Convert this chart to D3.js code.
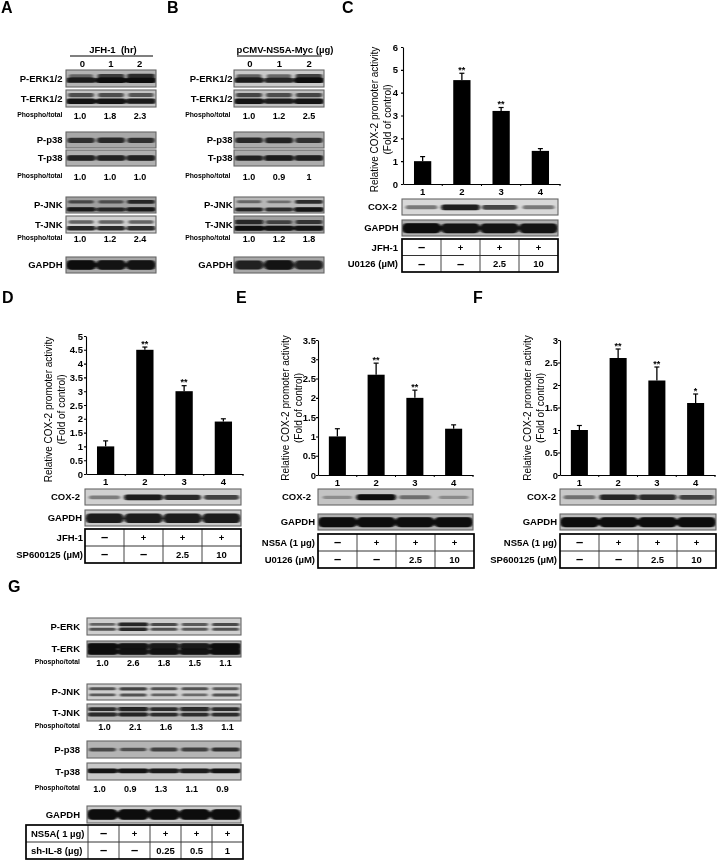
<!DOCTYPE html>
<html>
<head>
<meta charset="utf-8">
<script src="https://cdn.jsdelivr.net/npm/d3@7"></script>
<style>
  html, body { margin: 0; padding: 0; background: #fff; }
  svg { filter: blur(0.3px); }
  text { font-family: "Liberation Sans", Arial, sans-serif; fill: #000; }
  .bold { font-weight: bold; }
</style>
</head>
<body>
<div id="svg"></div>
<script>
// bar values
const lanes4 = ['1', '2', '3', '4']
const valuesC = [1.0, 4.55, 3.2, 1.45]
const errTopC = [1.2, 4.85, 3.35, 1.55]
const starsC = ['', '**', '**', '']
const ticksC = [0, 1, 2, 3, 4, 5, 6]

const valuesD = [1.0, 4.5, 3.0, 1.9]
const errTopD = [1.2, 4.6, 3.2, 2.0]
const starsD = ['', '**', '**', '']
const ticksD = [0, 0.5, 1, 1.5, 2, 2.5, 3, 3.5, 4, 4.5, 5]

const valuesE = [1.0, 2.6, 2.0, 1.2]
const errTopE = [1.2, 2.9, 2.2, 1.3]
const starsE = ['', '**', '**', '']
const ticksE = [0, 0.5, 1, 1.5, 2, 2.5, 3, 3.5]

const valuesF = [1.0, 2.6, 2.1, 1.6]
const errTopF = [1.1, 2.8, 2.4, 1.8]
const starsF = ['', '**', '**', '*']
const ticksF = [0, 0.5, 1, 1.5, 2, 2.5, 3]

// table rows under the bars
const rowsC = [['JFH-1', '–', '+', '+', '+'], ['U0126 (µM)', '–', '–', '2.5', '10']]
const rowsD = [['JFH-1', '–', '+', '+', '+'], ['SP600125 (µM)', '–', '–', '2.5', '10']]
const rowsE = [['NS5A (1 µg)', '–', '+', '+', '+'], ['U0126 (µM)', '–', '–', '2.5', '10']]
const rowsF = [['NS5A (1 µg)', '–', '+', '+', '+'], ['SP600125 (µM)', '–', '–', '2.5', '10']]
const rowsG = [['NS5A( 1 µg)', '–', '+', '+', '+', '+'], ['sh-IL-8 (µg)', '–', '–', '0.25', '0.5', '1']]

// blot names and phospho/total ratios
const namesAB1 = ['P-ERK1/2', 'T-ERK1/2', 'P-p38', 'T-p38', 'P-JNK', 'T-JNK', 'GAPDH']
const namesG = ['P-ERK', 'T-ERK', 'P-JNK', 'T-JNK', 'P-p38', 'T-p38', 'GAPDH']
const namesCox = ['COX-2', 'GAPDH']
const ratiosA = [['1.0', '1.8', '2.3'], ['1.0', '1.0', '1.0'], ['1.0', '1.2', '2.4']]
const ratiosB = [['1.0', '1.2', '2.5'], ['1.0', '0.9', '1'], ['1.0', '1.2', '1.8']]
const ratiosG = [['1.0', '2.6', '1.8', '1.5', '1.1'], ['1.0', '2.1', '1.6', '1.3', '1.1'], ['1.0', '0.9', '1.3', '1.1', '0.9']]
const lanesA = ['0', '1', '2']
const lanesG = ['a', 'b', 'c', 'd', 'e']

// band darkness per blot, band and lane (0-1)
const bandsA = [
  [[.3, .6, .7], [.9, 1, 1]],
  [[.5, .5, .45], [.95, .95, .9]],
  [[.65, .7, .65]],
  [[.85, .85, .85]],
  [[.45, .4, .7], [.9, .8, .9]],
  [[.4, .4, .4], [.85, .75, .8]],
  [[1, .95, .95]]
]
const bandsB = [
  [[.4, .35, .6], [.9, .85, 1]],
  [[.55, .5, .55], [.95, .9, .95]],
  [[.7, .75, .65]],
  [[.75, .9, .85]],
  [[.3, .25, .7], [.75, .7, .95]],
  [[.8, .5, .6], [1, .95, .95]],
  [[.85, .95, .85]]
]
const bandsG = [
  [[.4, .85, .55, .45, .55], [.5, .75, .5, .45, .5]],
  [[1, .95, .9, .9, 1], [1, .95, .95, .95, 1]],
  [[.5, .6, .5, .5, .45], [.45, .5, .4, .35, .5]],
  [[.7, .85, .7, .8, .7], [.8, .85, .7, .7, .7]],
  [[.5, .45, .55, .55, .65]],
  [[.95, .95, .9, .9, .95]],
  [[1, 1, 1, 1, 1]]
]
const coxC = [[[.3, .9, .6, .3]], [[1, .95, .95, .95]]]
const coxD = [[[.25, .9, .75, .6]], [[.9, .9, .9, .9]]]
const coxE = [[[.1, 1, .3, .12]], [[1, 1, 1, 1]]]
const coxF = [[[.3, .85, .8, .6]], [[1, 1, 1, 1]]]

// layout of the figure
const svg = d3.select('#svg').append('svg').attr('width', 717).attr('height', 860)
const defs = svg.append('defs')
defs.append('filter').attr('id', 'smear')
  .attr('x', '-20%').attr('y', '-60%').attr('width', '140%').attr('height', '220%')
  .append('feGaussianBlur').attr('stdDeviation', '1.7 0.7')

let clipId = 0

function label(x, y, str, size, anchor, bold) {
  return svg.append('text')
    .attr('x', x).attr('y', y)
    .attr('text-anchor', anchor || 'start')
    .attr('class', bold === false ? '' : 'bold')
    .style('font-size', size + 'px')
    .text(str)
}

function drawBlot(laneNames, x0, x1, y0, y1, name, nameX, bg, bands, bandPos, thick) {
  let laneScale = d3.scaleBand().domain(laneNames).range([x0, x1])
  let id = 'clip' + (clipId++)
  defs.append('clipPath').attr('id', id).append('rect')
    .attr('x', x0).attr('y', y0).attr('width', x1 - x0).attr('height', y1 - y0)

  svg.append('rect')
    .attr('x', x0).attr('y', y0).attr('width', x1 - x0).attr('height', y1 - y0)
    .attr('fill', bg)

  let inner = svg.append('g').attr('clip-path', `url(#${id})`).append('g').attr('filter', 'url(#smear)')
  bands.forEach((row, b) => {
    let cy = y0 + (y1 - y0) * bandPos[b]
    let bw = laneScale.bandwidth()
    let bandH = d => thick * (0.5 + 0.5 * d)
    let bandW = d => bw * (0.72 + 0.3 * d)
    inner.selectAll(null)
      .data(row)
      .join('rect')
      .attr('x', (d, i) => laneScale(laneNames[i]) + (bw - bandW(d)) / 2)
      .attr('width', d => bandW(d))
      .attr('y', d => cy - bandH(d) / 2)
      .attr('height', d => bandH(d))
      .attr('rx', d => bandH(d) / 2)
      .attr('fill', '#080808')
      .attr('opacity', d => 0.2 + 0.8 * d)
  })

  svg.append('rect')
    .attr('x', x0).attr('y', y0).attr('width', x1 - x0).attr('height', y1 - y0)
    .attr('fill', 'none').attr('stroke', '#666').attr('stroke-width', 1.1)

  label(nameX, (y0 + y1) / 2 + 3.4, name, 9.5, 'end')
}

function drawRatios(laneNames, x0, x1, baseline, values, labelX, shift) {
  let laneScale = d3.scaleBand().domain(laneNames).range([x0, x1])
  label(labelX, baseline - 2, 'Phospho/total', 6.8, 'end')
  svg.selectAll(null)
    .data(values)
    .enter().append('text')
    .attr('class', 'bold')
    .attr('x', (d, i) => laneScale(laneNames[i]) + laneScale.bandwidth() / 2 + shift)
    .attr('y', baseline)
    .attr('text-anchor', 'middle')
    .style('font-size', '9px')
    .text(d => d)
}

function drawTable(columns, x0, x1, y0, y1, rows, labelX, labelAnchor, firstCol) {
  let colStart = firstCol === undefined ? x0 : firstCol
  let colScale = d3.scaleBand().domain(columns).range([colStart, x1])
  let mid = (y0 + y1) / 2

  let lines = columns.map(c => colScale(c)).filter(x => x > x0 + 1)
  svg.selectAll(null)
    .data(lines)
    .enter().append('line')
    .attr('x1', d => d).attr('x2', d => d)
    .attr('y1', y0).attr('y2', y1)
    .attr('stroke', '#444').attr('stroke-width', 1)
  svg.append('line')
    .attr('x1', x0).attr('x2', x1).attr('y1', mid).attr('y2', mid)
    .attr('stroke', '#333').attr('stroke-width', 1)
  svg.append('rect')
    .attr('x', x0).attr('y', y0).attr('width', x1 - x0).attr('height', y1 - y0)
    .attr('fill', 'none').attr('stroke', '#000').attr('stroke-width', 1.7)

  rows.forEach((row, r) => {
    let cy = y0 + (y1 - y0) * (r + 0.5) / 2 + 3.4
    label(labelX, cy, row[0], 9.5, labelAnchor)
    row.slice(1).forEach((cell, i) => {
      let isDash = cell === '–'
      label(colScale(columns[i]) + colScale.bandwidth() / 2, cy + (isDash ? 0.5 : 0), cell, isDash ? 13 : 9.5, 'middle')
    })
  })
}

function drawBars(p) {
  let xScale = d3.scaleBand().domain(lanes4).range([p.x0, p.x1]).paddingInner(0.56).paddingOuter(0.28)
  let yScale = d3.scaleLinear().domain([0, d3.max(p.ticks)]).range([p.y0, p.yTop])

  svg.selectAll(null)
    .data(p.values)
    .enter().append('rect')
    .attr('x', (d, i) => xScale(lanes4[i]))
    .attr('width', xScale.bandwidth())
    .attr('y', d => yScale(d))
    .attr('height', d => p.y0 - yScale(d))
    .attr('fill', '#000')

  // upper error bars with cap
  let cx = i => xScale(lanes4[i]) + xScale.bandwidth() / 2
  svg.selectAll(null)
    .data(p.errTop)
    .enter().append('line')
    .attr('x1', (d, i) => cx(i)).attr('x2', (d, i) => cx(i))
    .attr('y1', (d, i) => yScale(p.values[i])).attr('y2', d => yScale(d))
    .attr('stroke', '#000').attr('stroke-width', 1.3)
  svg.selectAll(null)
    .data(p.errTop)
    .enter().append('line')
    .attr('x1', (d, i) => cx(i) - 2.5).attr('x2', (d, i) => cx(i) + 2.5)
    .attr('y1', d => yScale(d)).attr('y2', d => yScale(d))
    .attr('stroke', '#000').attr('stroke-width', 1.2)

  svg.selectAll(null)
    .data(p.stars)
    .enter().append('text')
    .attr('class', 'bold')
    .attr('x', (d, i) => cx(i))
    .attr('y', (d, i) => yScale(p.errTop[i]) - 0.5)
    .attr('text-anchor', 'middle')
    .style('font-size', '9px')
    .text(d => d)

  let yAxis = svg.append('g')
    .attr('transform', `translate(${p.x0}, 0)`)
    .call(d3.axisLeft(yScale).tickValues(p.ticks).tickFormat(d => d).tickSize(2).tickSizeOuter(0).tickPadding(p.tickPad))
  let xAxis = svg.append('g')
    .attr('transform', `translate(0, ${p.y0})`)
    .call(d3.axisBottom(xScale).tickSize(0).tickSizeOuter(0).tickPadding(4))
  for (let ax of [yAxis, xAxis]) {
    ax.selectAll('text').attr('class', 'bold').style('font-size', '9.5px').style('font-family', '"Liberation Sans", Arial, sans-serif')
    ax.selectAll('line,path').attr('stroke', '#000').attr('stroke-width', 1.1)
  }
  svg.selectAll(null)
    .data(lanes4)
    .enter().append('line')
    .attr('x1', d => xScale(d) + xScale.bandwidth() + xScale.step() * 0.28)
    .attr('x2', d => xScale(d) + xScale.bandwidth() + xScale.step() * 0.28)
    .attr('y1', p.y0).attr('y2', p.y0 + 2)
    .attr('stroke', '#000').attr('stroke-width', 1)

  // y title, two rotated lines
  let ty = (p.titleTop + p.titleBottom) / 2
  svg.append('text')
    .attr('transform', `translate(${p.titleX}, ${ty}) rotate(-90)`)
    .attr('text-anchor', 'middle').style('font-size', '10px')
    .text('Relative COX-2 promoter activity')
  svg.append('text')
    .attr('transform', `translate(${p.titleX + 13}, ${ty}) rotate(-90)`)
    .attr('text-anchor', 'middle').style('font-size', '10px')
    .text('(Fold of control)')
}

// panel letters
label(1, 13, 'A', 16, 'start')
label(167, 13, 'B', 16, 'start')
label(342, 13, 'C', 16, 'start')
label(2, 303, 'D', 16, 'start')
label(236, 303, 'E', 16, 'start')
label(473, 303, 'F', 16, 'start')
label(8, 592, 'G', 16, 'start')

// panels A and B
const boxesAB = [[70, 87], [90, 107], [132, 148], [150, 166], [197, 213], [216, 233], [257, 273]]
const posAB = [[.36, .6], [.3, .66], [.52], [.5], [.3, .78], [.36, .72], [.5]]
const thickAB = [5.5, 5.5, 6.5, 6, 4.5, 5, 9.5]
const bgA = ['#b4b4b4', '#c4c4c4', '#a8a8a8', '#b0b0b0', '#a0a0a0', '#d0d0d0', '#a8a8a8']
const bgB = ['#cacaca', '#c0c0c0', '#acacac', '#acacac', '#b8b8b8', '#a0a0a0', '#a8a8a8']

boxesAB.forEach((b, i) => {
  drawBlot(lanesA, 66, 156, b[0], b[1], namesAB1[i], 62.5, bgA[i], bandsA[i], posAB[i], thickAB[i])
  drawBlot(lanesA, 234, 324, b[0], b[1], namesAB1[i], 232.5, bgB[i], bandsB[i], posAB[i], thickAB[i])
})
const ratioBaselineAB = [119, 180, 242]
ratioBaselineAB.forEach((y, i) => {
  drawRatios(lanesA, 66, 156, y, ratiosA[i], 62.5, -1)
  drawRatios(lanesA, 234, 324, y, ratiosB[i], 230.5, 0)
})
label(113, 53, 'JFH-1  (hr)', 9.5, 'middle').attr('xml:space', 'preserve')
label(285, 53, 'pCMV-NS5A-Myc (µg)', 9.5, 'middle')
svg.append('line').attr('x1', 70).attr('x2', 153).attr('y1', 56).attr('y2', 56).attr('stroke', '#000').attr('stroke-width', 1.2)
svg.append('line').attr('x1', 237).attr('x2', 322).attr('y1', 56).attr('y2', 56).attr('stroke', '#000').attr('stroke-width', 1.2)
const hourScaleA = d3.scaleBand().domain(lanesA).range([68, 154])
const doseScaleB = d3.scaleBand().domain(lanesA).range([235, 324])
lanesA.forEach(d => {
  label(hourScaleA(d) + hourScaleA.bandwidth() / 2, 67, d, 9.5, 'middle')
  label(doseScaleB(d) + doseScaleB.bandwidth() / 2, 67, d, 9.5, 'middle')
})

// panels C to F
const barPanels = [
  { x0: 403, x1: 560, y0: 184, yTop: 47, values: valuesC, errTop: errTopC, stars: starsC, ticks: ticksC, tickPad: 3, titleX: 377.5, titleTop: 46, titleBottom: 193 },
  { x0: 86, x1: 243, y0: 474, yTop: 336, values: valuesD, errTop: errTopD, stars: starsD, ticks: ticksD, tickPad: 1, titleX: 51.5, titleTop: 336, titleBottom: 483 },
  { x0: 318, x1: 473, y0: 475, yTop: 340, values: valuesE, errTop: errTopE, stars: starsE, ticks: ticksE, tickPad: 0, titleX: 288.5, titleTop: 334, titleBottom: 482 },
  { x0: 560, x1: 715, y0: 475, yTop: 340, values: valuesF, errTop: errTopF, stars: starsF, ticks: ticksF, tickPad: 0, titleX: 530.5, titleTop: 334, titleBottom: 482 }
]
barPanels.forEach(drawBars)

function coxBlots(x0, x1, boxes, data, nameXs, shades) {
  boxes.forEach((b, i) => {
    drawBlot(lanes4, x0, x1, b[0], b[1], namesCox[i], nameXs[i], shades[i], data[i], [.52], i === 0 ? 6 : 10)
  })
}
coxBlots(402, 558, [[199, 215], [220, 236]], coxC, [397, 398.5], ['#d8d8d8', '#b0b0b0'])
coxBlots(85, 241, [[489, 505], [510, 526]], coxD, [80, 82], ['#d0d0d0', '#c8c8c8'])
coxBlots(318, 473, [[489, 505], [514, 530]], coxE, [311, 315], ['#c4c4c4', '#b0b0b0'])
coxBlots(560, 716, [[489, 505], [514, 530]], coxF, [556, 557], ['#c8c8c8', '#bcbcbc'])

drawTable(lanes4, 402, 558, 239, 272, rowsC, 398, 'end')
drawTable(lanes4, 85, 241, 529, 563, rowsD, 83, 'end')
drawTable(lanes4, 318, 474, 534, 568, rowsE, 315, 'end')
drawTable(lanes4, 560, 716, 534, 568, rowsF, 557, 'end')

// panel G
const boxesG = [[618, 635], [641, 657], [684, 700], [704, 721], [741, 758], [763, 780], [806, 823]]
const posG = [[.38, .66], [.34, .66], [.3, .68], [.3, .62], [.5], [.46], [.5]]
const thickG = [4, 6.5, 4, 4.5, 5, 5, 10.5]
const bgG = ['#cecece', '#a4a4a4', '#cecece', '#b8b8b8', '#b4b4b4', '#c8c8c8', '#cacaca']
boxesG.forEach((b, i) => {
  drawBlot(lanesG, 87, 241, b[0], b[1], namesG[i], 80, bgG[i], bandsG[i], posG[i], thickG[i])
})
drawRatios(lanesG, 87, 241, 666, ratiosG[0], 80, 0)
drawRatios(lanesG, 87, 241, 730, ratiosG[1], 80, 2)
drawRatios(lanesG, 87, 241, 792, ratiosG[2], 80, -3)
drawTable(lanesG, 26, 243, 825, 859, rowsG, 31, 'start', 88)
</script>
</body>
</html>
